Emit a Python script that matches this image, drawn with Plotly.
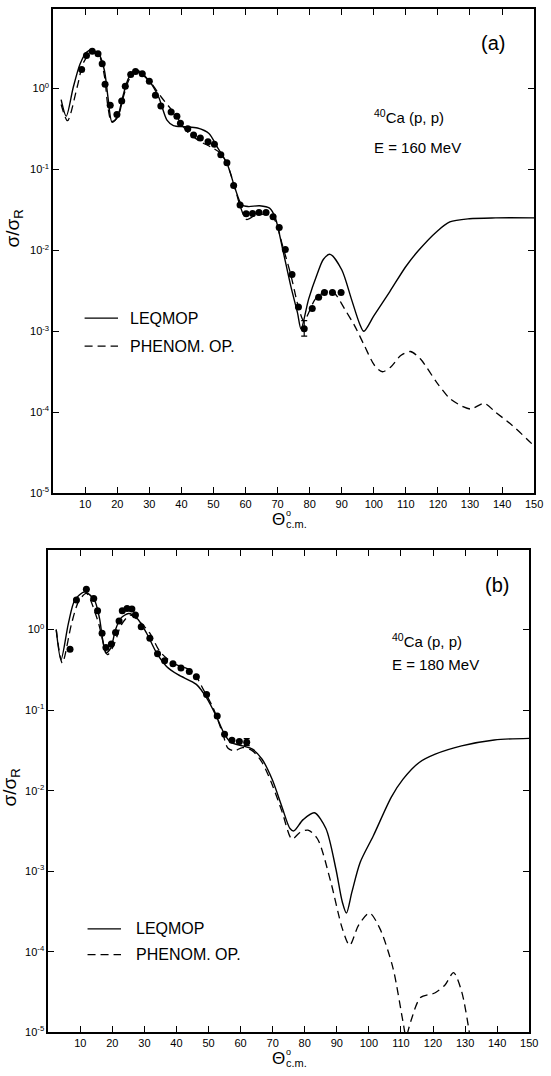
import plotly.graph_objects as go

# ---------------- data (angles in degrees, values as log10(sigma/sigma_R)) -------------
# Panel (a): 40Ca(p,p) E = 160 MeV
a_exp_theta = [8.9, 10.4, 12.2, 14.0, 15.3, 16.2, 17.8, 19.9, 21.4, 22.5, 24.2, 25.7, 27.8,
               30.0, 31.9, 33.6, 36.8, 38.6, 39.7, 42.0, 43.8, 45.9, 48.3, 50.3, 52.3, 54.2,
               56.3, 58.3, 60.2, 62.2, 64.2, 66.4, 68.6, 70.5, 72.4, 74.5, 76.5, 78.3, 80.8,
               82.8, 84.6, 87.1, 89.8]
a_exp_log = [0.233, 0.405, 0.458, 0.426, 0.303, 0.049, -0.209, -0.323, -0.156, 0.025, 0.172,
             0.209, 0.18, 0.086, -0.086, -0.217, -0.291, -0.344, -0.43, -0.50, -0.577, -0.612,
             -0.66, -0.69, -0.82, -0.92, -1.20, -1.44, -1.55, -1.545, -1.535, -1.535, -1.585,
             -1.72, -1.99, -2.30, -2.70, -2.97, -2.72, -2.58, -2.52, -2.52, -2.52]
a_err_plus = [0] * 37 + [0.00028] + [0] * 5
a_err_minus = [0] * 37 + [0.0002] + [0] * 5

a_leq_theta = [2.5, 4.1, 6.3, 8.4, 10.4, 12.2, 14.5, 16.0, 17.1, 18.4, 20.1, 21.7, 23.7, 26.3,
               29.8, 32.9, 35.5, 37.5, 40.9, 45.0, 48.6, 51.1, 54.2, 56.7, 58.8, 60.8, 64.4,
               67.5, 69.3, 71.6, 74.1, 76.2, 77.3, 79.7, 82.3, 84.3, 86.4, 90.0, 93.0, 95.6,
               96.9, 100.0, 105.0, 110.0, 114.0, 119.6, 123.7, 129.8, 138.0, 150.0]
a_leq_log = [-0.14, -0.344, 0.016, 0.30, 0.446, 0.475, 0.405, 0.22, -0.107, -0.42, -0.35,
             -0.107, 0.139, 0.221, 0.098, -0.107, -0.393, -0.46, -0.475, -0.49, -0.557, -0.72,
             -0.925, -1.23, -1.437, -1.46, -1.45, -1.48, -1.60, -1.99, -2.44, -2.77, -2.97,
             -2.60, -2.30, -2.11, -2.05, -2.24, -2.60, -2.91, -3.0, -2.81, -2.51, -2.20, -2.0,
             -1.77, -1.65, -1.61, -1.60, -1.60]

a_phen_theta = [2.5, 4.5, 7.5, 9.5, 12.3, 14.5, 16.0, 17.1, 18.2, 20.1, 21.9, 24.0, 26.3, 30.0,
                33.7, 37.8, 41.9, 46.0, 49.0, 52.1, 54.2, 56.5, 58.3, 60.3, 63.4, 66.4, 69.0,
                71.6, 74.1, 76.7, 78.2, 81.8, 84.5, 86.9, 88.4, 91.0, 94.0, 97.1, 100.2, 102.7,
                105.3, 108.4, 111.4, 114.5, 119.6, 123.7, 127.8, 130.3, 134.4, 138.0, 143.1,
                149.3, 150.0]
a_phen_log = [-0.2, -0.40, 0.016, 0.32, 0.46, 0.39, 0.15, -0.23, -0.41, -0.36, -0.107, 0.13,
              0.20, 0.09, -0.107, -0.31, -0.537, -0.66, -0.72, -0.80, -0.93, -1.2, -1.45, -1.62,
              -1.56, -1.56, -1.62, -1.95, -2.30, -2.73, -2.87, -2.60, -2.52, -2.50, -2.56,
              -2.73, -2.93, -3.18, -3.42, -3.50, -3.44, -3.30, -3.25, -3.34, -3.63, -3.83,
              -3.93, -3.96, -3.89, -4.0, -4.16, -4.39, -4.42]

# Panel (b): 40Ca(p,p) E = 180 MeV
b_exp_theta = [6.8, 8.8, 11.9, 14.2, 15.4, 16.8, 18.0, 19.7, 21.0, 22.1, 23.1, 24.6, 26.1,
               27.2, 29.0, 31.7, 34.1, 36.3, 38.9, 41.4, 44.0, 46.2, 49.4, 52.7, 55.0, 57.3,
               59.6, 61.9]
b_exp_log = [-0.243, 0.367, 0.502, 0.386, 0.235, -0.045, -0.222, -0.177, -0.037, 0.107, 0.235,
             0.263, 0.255, 0.181, 0.037, -0.107, -0.30, -0.386, -0.424, -0.478, -0.52, -0.585,
             -0.806, -1.074, -1.30, -1.374, -1.39, -1.40]
b_err_plus = [0] * 27 + [0.0044]
b_err_minus = [0] * 27 + [0.0035]

b_leq_theta = [2.5, 4.0, 6.3, 8.3, 11.4, 14.4, 16.0, 17.0, 18.0, 19.5, 21.0, 22.6, 25.1, 27.7,
               30.7, 33.8, 36.9, 40.5, 46.2, 49.4, 52.4, 55.0, 57.0, 60.6, 63.7, 66.7, 69.8,
               72.8, 75.4, 76.6, 79.5, 83.0, 86.6, 89.7, 91.7, 93.0, 94.7, 97.3, 101.4, 107.0,
               110.6, 115.7, 120.7, 128.9, 139.1, 150.0]
b_leq_log = [0.0, -0.374, 0.078, 0.367, 0.469, 0.367, 0.14, -0.127, -0.292, -0.23, 0.0, 0.14,
             0.20, 0.14, -0.045, -0.29, -0.457, -0.56, -0.68, -0.848, -1.074, -1.30, -1.40,
             -1.444, -1.485, -1.61, -1.856, -2.19, -2.47, -2.50, -2.36, -2.275, -2.47, -2.97,
             -3.38, -3.52, -3.26, -2.89, -2.56, -2.08, -1.86, -1.65, -1.547, -1.444, -1.37,
             -1.35]

b_phen_theta = [2.5, 4.4, 7.3, 9.5, 11.9, 15.4, 18.5, 20.5, 22.8, 25.6, 28.5, 31.7, 34.8, 38.9,
                45.0, 48.4, 51.4, 54.5, 56.0, 58.0, 60.6, 63.7, 66.7, 69.8, 73.0, 76.0, 78.5,
                81.0, 84.0, 88.1, 91.7, 94.0, 96.8, 100.2, 103.4, 107.5, 110.6, 111.6, 113.1,
                116.1, 120.7, 123.8, 126.4, 128.9, 131.4, 132.0]
b_phen_log = [0.0, -0.416, 0.078, 0.35, 0.45, 0.12, -0.31, -0.19, 0.06, 0.18, 0.10, -0.045,
              -0.27, -0.416, -0.519, -0.745, -0.97, -1.30, -1.47, -1.506, -1.465, -1.506, -1.65,
              -1.92, -2.27, -2.60, -2.52, -2.49, -2.60, -3.13, -3.71, -3.92, -3.67, -3.52,
              -3.71, -4.20, -4.86, -5.05, -4.86, -4.57, -4.51, -4.41, -4.26, -4.49, -5.02, -5.2]

x_tick_vals = [10, 20, 30, 40, 50, 60, 70, 80, 90, 100, 110, 120, 130, 140, 150]
y_tick_vals = [1e-5, 1e-4, 1e-3, 1e-2, 1e-1, 1e0]
y_tick_text = ["10<sup>-5</sup>", "10<sup>-4</sup>", "10<sup>-3</sup>", "10<sup>-2</sup>",
               "10<sup>-1</sup>", "10<sup>0</sup>"]

# ---------------- figure ----------------
W, H = 551, 1076
FONT = "Liberation Sans"


def lin(v):
    return [10 ** t for t in v]


fig = go.Figure()

panels = [
    ("x", "y", a_exp_theta, a_exp_log, a_err_plus, a_err_minus, a_leq_theta, a_leq_log,
     a_phen_theta, a_phen_log),
    ("x2", "y2", b_exp_theta, b_exp_log, b_err_plus, b_err_minus, b_leq_theta, b_leq_log,
     b_phen_theta, b_phen_log),
]

for xa, ya, et, el, ep, em, lt, ll, pt, pl in panels:
    fig.add_trace(go.Scatter(x=lt, y=lin(ll), mode="lines", xaxis=xa, yaxis=ya,
                             line=dict(color="black", width=1.4, shape="spline", smoothing=0.8),
                             name="LEQMOP", showlegend=False))
    fig.add_trace(go.Scatter(x=pt, y=lin(pl), mode="lines", xaxis=xa, yaxis=ya,
                             line=dict(color="black", width=1.3, shape="spline", smoothing=0.8,
                                       dash="8px,5px"),
                             name="PHENOM. OP.", showlegend=False))
    fig.add_trace(go.Scatter(x=et, y=lin(el), mode="markers", xaxis=xa, yaxis=ya,
                             marker=dict(color="black", size=7),
                             error_y=dict(type="data", array=ep, arrayminus=em, symmetric=False,
                                          color="black", thickness=1.2, width=3),
                             name="data", showlegend=False))

axis_common = dict(showline=True, linecolor="black", linewidth=1.6, mirror="ticks",
                   ticks="inside", ticklen=6, tickwidth=1.3, tickcolor="black",
                   showgrid=False, zeroline=False,
                   tickfont=dict(family=FONT, size=11, color="black"))

top_y0, top_y1 = 9, 496
bot_y0, bot_y1 = 553, 1038

fig.update_layout(
    width=W, height=H, margin=dict(l=0, r=0, t=0, b=0), autosize=False,
    paper_bgcolor="white", plot_bgcolor="white",
    xaxis=dict(domain=[54 / W, 543 / W], anchor="y", range=[0, 150], tickvals=x_tick_vals,
               **axis_common),
    yaxis=dict(domain=[1 - top_y1 / H, 1 - top_y0 / H], anchor="x", type="log",
               range=[-5, 0.98], tickvals=y_tick_vals, ticktext=y_tick_text, **axis_common),
    xaxis2=dict(domain=[49 / W, 538 / W], anchor="y2", range=[0, 150], tickvals=x_tick_vals,
                **axis_common),
    yaxis2=dict(domain=[1 - bot_y1 / H, 1 - bot_y0 / H], anchor="x2", type="log",
                range=[-5, 0.99], tickvals=y_tick_vals, ticktext=y_tick_text, **axis_common),
)


def ann(text, px, py, size=14, xanchor="left", angle=0, align="left"):
    fig.add_annotation(text=text, x=px / W, y=1 - py / H, xref="paper", yref="paper",
                       showarrow=False, xanchor=xanchor, yanchor="middle", textangle=angle,
                       align=align, borderpad=0,
                       font=dict(family=FONT, size=size, color="black"))


# panel labels
ann("(a)", 501, 43, size=20, xanchor="center")
ann("(b)", 505, 588, size=20, xanchor="center")
# reaction labels
ann("<sup>40</sup>Ca (p, p)", 379, 117, size=15)
ann("E = 160 MeV", 379, 148, size=15)
ann("<sup>40</sup>Ca (p, p)", 397, 644, size=15)
ann("E = 180 MeV", 397, 668, size=15)
# legends
for (lx0, lx1, ys, yd, tx) in [(86, 120, 320, 348, 131), (89, 123, 934, 960, 137)]:
    fig.add_shape(type="line", xref="paper", yref="paper", x0=lx0 / W, x1=lx1 / W,
                  y0=1 - ys / H, y1=1 - ys / H, line=dict(color="black", width=1.3))
    fig.add_shape(type="line", xref="paper", yref="paper", x0=lx0 / W, x1=lx1 / W,
                  y0=1 - yd / H, y1=1 - yd / H, line=dict(color="black", width=1.3,
                                                          dash="8px,5px"))
    ann("LEQMOP", tx, ys, size=16)
    ann("PHENOM. OP.", tx, yd, size=16)
# axis titles
ann("σ/σ<sub>R</sub>", 14, 230, size=19, xanchor="center", angle=-90)
ann("σ/σ<sub>R</sub>", 11, 792, size=19, xanchor="center", angle=-90)
for yb in (522, 1064):
    ann("Θ", 275, yb, size=17)
    ann("o", 290, yb - 6, size=9)
    ann("c.m.", 290, yb + 5, size=11)

fig.write_html("out.html")
